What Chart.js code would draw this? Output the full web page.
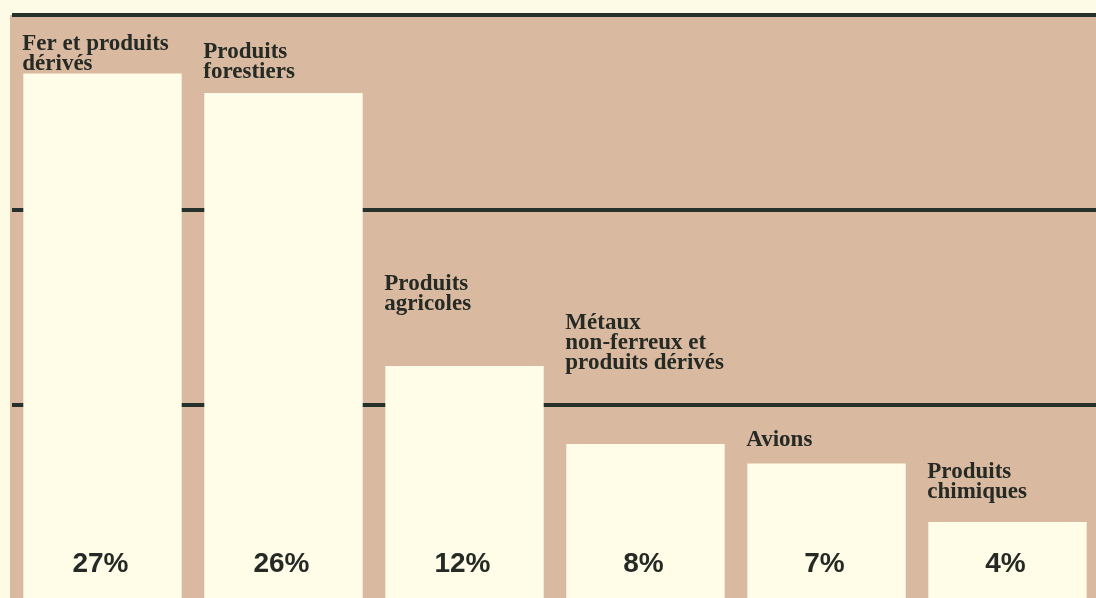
<!DOCTYPE html>
<html>
<head>
<meta charset="utf-8">
<script src="https://cdn.jsdelivr.net/npm/chart.js@4.4.1/dist/chart.umd.min.js"></script>
<style>
  html, body { margin: 0; padding: 0; overflow: hidden; background: #fdfbe6; }
  #wrap { position: relative; width: 1100px; height: 602px; }
</style>
</head>
<body>
<div id="wrap"><canvas id="c" width="1100" height="602"></canvas></div>
<script>
// ---- data ----
const categories = [
  ["Fer et produits", "dérivés"],
  ["Produits", "forestiers"],
  ["Produits", "agricoles"],
  ["Métaux", "non-ferreux et", "produits dérivés"],
  ["Avions"],
  ["Produits", "chimiques"]
];
const shares = [27, 26, 12, 8, 7, 4];
const gridValues = [10, 20, 30];

// ---- styling ----
const TAN = '#d9b9a0';
const CREAM = '#fdfbe6';
const BAR = '#fffde8';
const INK = '#252a25';
const LINE = '#27312b';

const bgPlugin = {
  id: 'bg',
  beforeDraw(chart) {
    const ctx = chart.ctx;
    const a = chart.chartArea;
    ctx.save();
    ctx.fillStyle = CREAM;
    ctx.fillRect(0, 0, chart.width, chart.height);
    ctx.fillStyle = TAN;
    ctx.fillRect(a.left - 2, a.top, chart.width - a.left + 2, chart.height - a.top);
    ctx.restore();
  }
};

const labelPlugin = {
  id: 'barLabels',
  afterDatasetsDraw(chart, args, opts) {
    const ctx = chart.ctx;
    const meta = chart.getDatasetMeta(0);
    ctx.save();
    meta.data.forEach((bar, i) => {
      const left = bar.x - bar.width / 2;
      // category label, bold serif, left aligned above bar
      ctx.font = 'bold 23px "Liberation Serif", "DejaVu Serif", serif';
      ctx.fillStyle = INK;
      ctx.textAlign = 'left';
      ctx.textBaseline = 'alphabetic';
      const lines = categories[i];
      const firstBase = bar.y - opts.lift[i];
      lines.forEach((ln, k) => ctx.fillText(ln, left - 1, firstBase + k * 20));
      // value label, bold sans, at bottom of bar
      ctx.font = 'bold 28px "Liberation Sans", Arial, sans-serif';
      ctx.textAlign = 'center';
      ctx.fillText(shares[i] + '%', bar.x - 2, chart.chartArea.bottom - 28);
    });
    ctx.restore();
  }
};

new Chart(document.getElementById('c'), {
  type: 'bar',
  data: {
    labels: categories.map(c => c.join(' ')),
    datasets: [{
      data: shares,
      backgroundColor: BAR,
      borderWidth: 0,
      barPercentage: 0.875,
      categoryPercentage: 1.0
    }]
  },
  options: {
    responsive: false,
    animation: false,
    events: [],
    layout: { padding: { left: 12, right: 2, top: 15, bottom: 2 } },
    plugins: {
      legend: { display: false },
      tooltip: { enabled: false },
      barLabels: { lift: [24, 35, 76, 115, 18, 44] }
    },
    scales: {
      x: { display: false },
      y: {
        min: 0,
        max: 30,
        afterFit(s) { s.width = 0; },
        afterBuildTicks(s) { s.ticks = gridValues.map(v => ({ value: v })); },
        ticks: { display: false },
        border: { display: false },
        grid: {
          drawTicks: false,
          color: LINE,
          lineWidth: 4
        }
      }
    }
  },
  plugins: [bgPlugin, labelPlugin]
});
</script>
</body>
</html>
